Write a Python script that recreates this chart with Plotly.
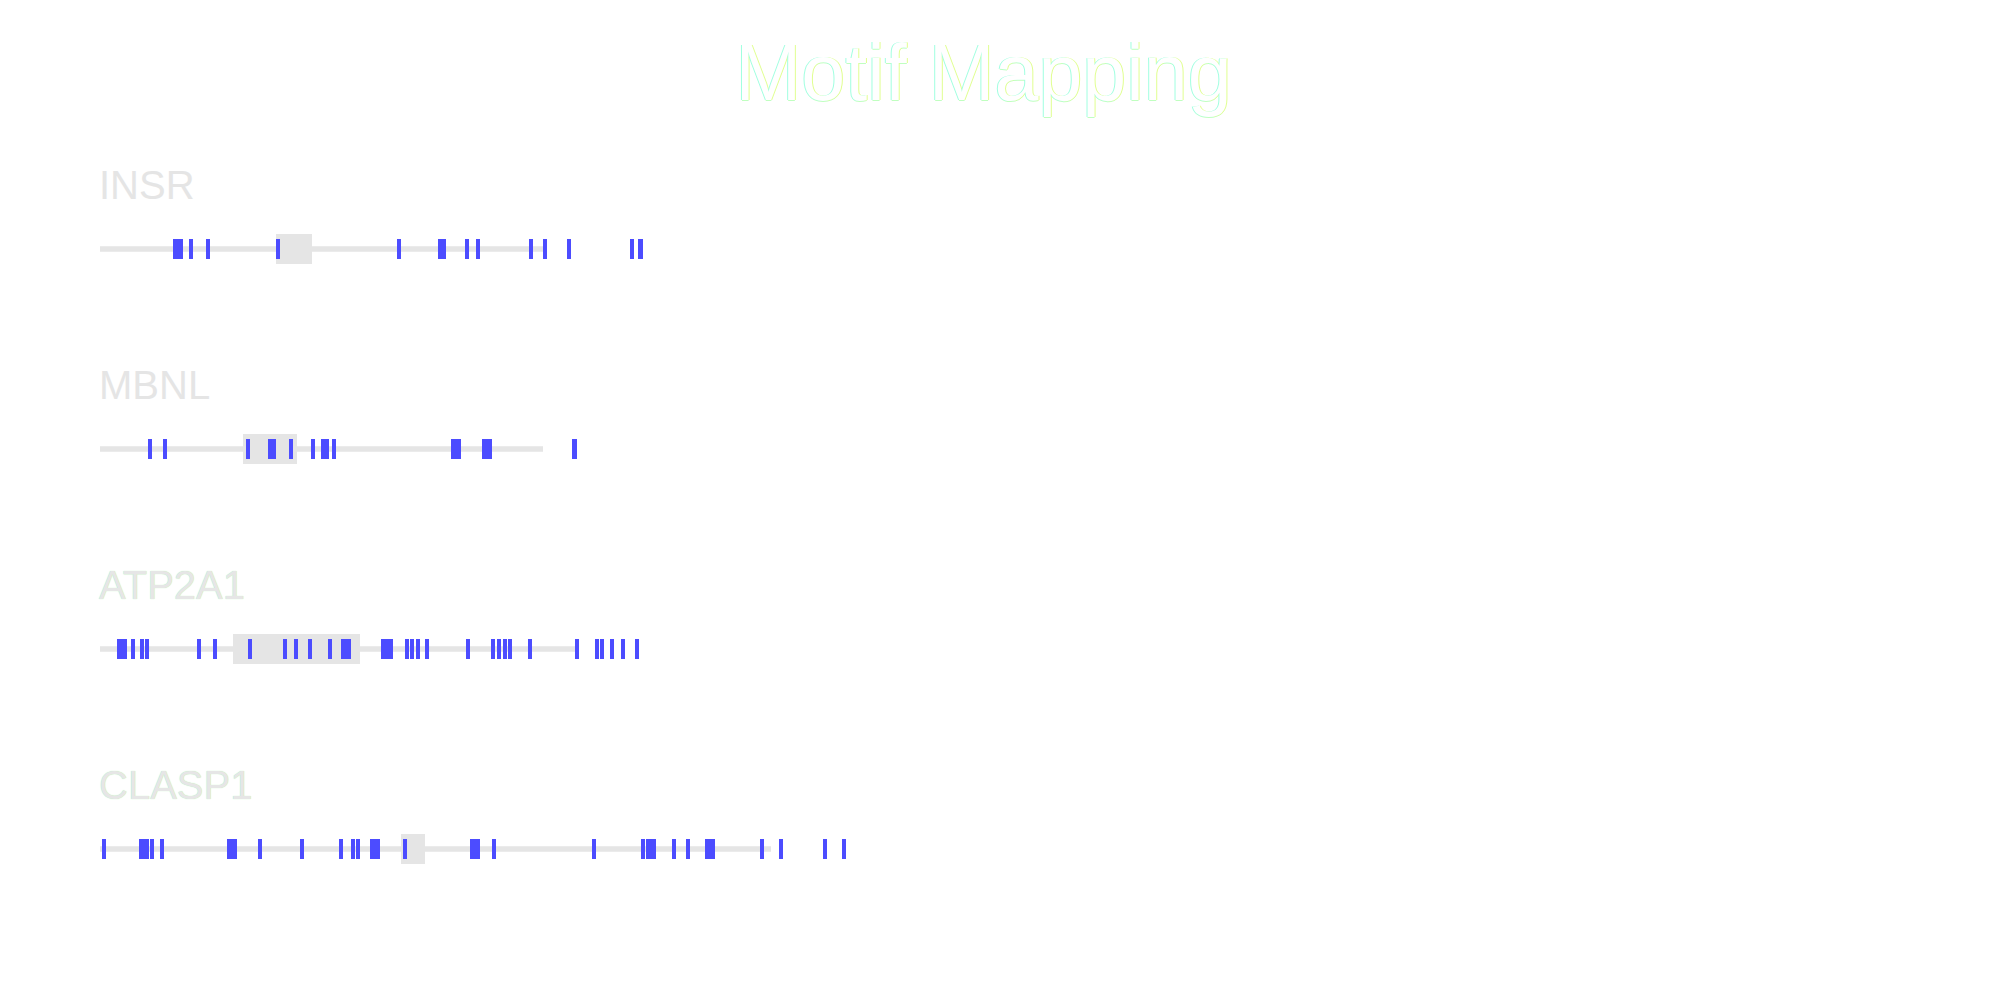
import plotly.graph_objects as go

genes = ["INSR", "MBNL", "ATP2A1", "CLASP1"]
gene_lengths = [447, 443, 475, 671]
region_starts = [176, 143, 133, 301]
region_ends = [212, 197, 260, 325]

insr_starts = [73, 89, 106, 176, 297, 338, 365, 376, 429, 443, 467, 530, 538]
insr_ends = [83, 93, 110, 180, 301, 346, 369, 380, 433, 447, 471, 534, 543]

mbnl_starts = [48, 63, 146, 168, 189, 211, 221, 232, 351, 382, 472]
mbnl_ends = [52, 67, 150, 176, 193, 215, 229, 236, 361, 392, 477]

atp2a1_starts = [17, 31, 40, 45, 97, 113, 148, 183, 194, 208, 228, 241, 281, 305, 310,
                 316, 325, 366, 391, 397, 403, 408, 428, 475, 495, 500, 510, 521, 535]
atp2a1_ends = [27, 35, 44, 49, 101, 117, 152, 187, 198, 212, 232, 251, 293, 309, 314,
               320, 329, 370, 395, 401, 407, 412, 432, 479, 499, 504, 514, 525, 539]

clasp1_starts = [2, 39, 50, 60, 127, 158, 200, 239, 251, 256, 270, 303, 370, 392, 492,
                 541, 546, 572, 586, 605, 660, 679, 723, 742]
clasp1_ends = [6, 49, 54, 64, 137, 162, 204, 243, 255, 260, 280, 307, 380, 396, 496,
               545, 556, 576, 590, 615, 664, 683, 727, 746]

motif_starts = [insr_starts, mbnl_starts, atp2a1_starts, clasp1_starts]
motif_ends = [insr_ends, mbnl_ends, atp2a1_ends, clasp1_ends]

label_colors = ["#E5E5E5", "#E5E5E5", "#E6E6E6", "#E6E6E6"]
label_shadows = [
    "none", "none",
    "0px 0px 1px #A8F0A8",
    "0px 0px 1px #A8F0A8",
]
title_shadow = ("-1px 0px 0px #A0FFE0, 1px 0px 0px #E0FF90, "
                "0px 1px 0px #C0FFC0")

fig = go.Figure()

# backbone lines
fig.add_trace(go.Bar(
    orientation="h", y=list(range(len(genes))), x=gene_lengths,
    base=[0] * len(genes), width=0.027, marker=dict(color="#E5E5E5", line=dict(width=0)),
    hoverinfo="skip", showlegend=False,
))

# highlighted regions
fig.add_trace(go.Bar(
    orientation="h", y=list(range(len(genes))),
    x=[e - s for s, e in zip(region_starts, region_ends)],
    base=region_starts, width=0.15, marker=dict(color="#E5E5E5", line=dict(width=0)),
    hoverinfo="skip", showlegend=False,
))

# motifs
my, mx, mb = [], [], []
for gi, (ss, ee) in enumerate(zip(motif_starts, motif_ends)):
    for s, e in zip(ss, ee):
        my.append(gi)
        mb.append(s)
        mx.append(e - s)
fig.add_trace(go.Bar(
    orientation="h", y=my, x=mx, base=mb, width=0.1,
    marker=dict(color="#4C4CFF", line=dict(width=0)),
    showlegend=False,
))

for gi, g in enumerate(genes):
    fig.add_annotation(
        x=0, y=gi - 0.32, xref="x", yref="y", text=g, showarrow=False,
        xanchor="left", yanchor="middle", xshift=-3,
        font=dict(family="Liberation Sans, Arial", size=40, color=label_colors[gi],
                  shadow=label_shadows[gi]),
    )

fig.update_layout(
    width=2000, height=1000,
    margin=dict(l=92, r=108, t=141, b=59),
    paper_bgcolor="white", plot_bgcolor="white",
    barmode="overlay",
    title=dict(
        text="Motif Mapping", x=0.4878, xref="container", xanchor="center",
        y=0.936, yref="container", yanchor="middle",
        font=dict(family="Liberation Sans, Arial", size=79, color="#FFFFFF",
                  shadow=title_shadow),
    ),
    xaxis=dict(range=[0, 1800], visible=False, fixedrange=True),
    yaxis=dict(range=[3.5, -0.5], visible=False, fixedrange=True),
    showlegend=False,
)

fig.write_html("out.html")
